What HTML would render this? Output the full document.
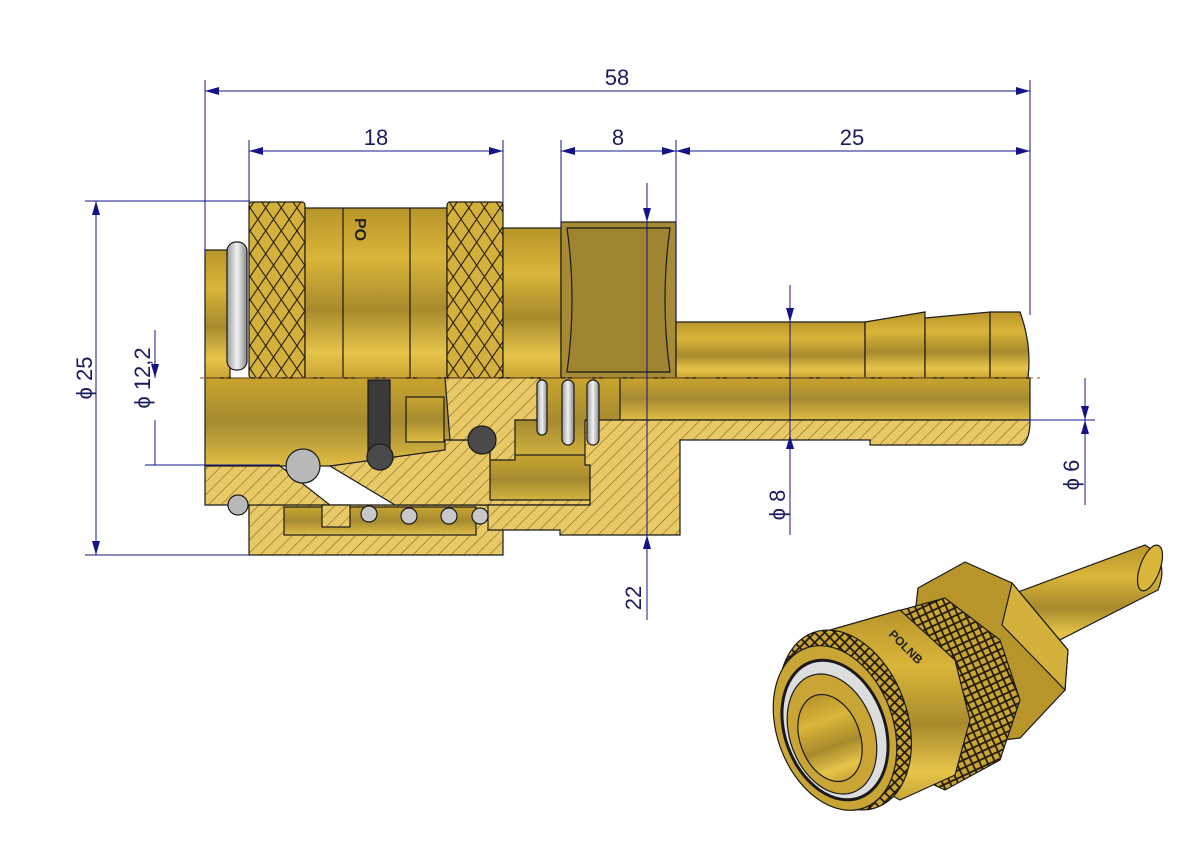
<!DOCTYPE html>
<html><head><meta charset="utf-8"><style>
html,body{margin:0;padding:0;background:#fff;width:1191px;height:842px;overflow:hidden}
svg{display:block}
text{font-family:"Liberation Sans",sans-serif;fill:#1a1a5e}
</style></head><body>
<svg width="1191" height="842" viewBox="0 0 1191 842" xmlns="http://www.w3.org/2000/svg">
<defs>
<linearGradient id="gv" x1="0" y1="0" x2="0" y2="1">
<stop offset="0" stop-color="#b8952a"/><stop offset="0.3" stop-color="#d9b53a"/><stop offset="0.6" stop-color="#a88a2c"/><stop offset="0.85" stop-color="#e6c44a"/><stop offset="1" stop-color="#c9a635"/>
</linearGradient>
<linearGradient id="gl" x1="0" y1="0" x2="0" y2="1">
<stop offset="0" stop-color="#c8a42e"/><stop offset="0.5" stop-color="#a68a30"/><stop offset="1" stop-color="#e0bd45"/>
</linearGradient>
<linearGradient id="gs" x1="0" y1="0" x2="1" y2="0">
<stop offset="0" stop-color="#999"/><stop offset="0.5" stop-color="#f2f2f2"/><stop offset="1" stop-color="#888"/>
</linearGradient>
<pattern id="hatch" width="9" height="9" patternUnits="userSpaceOnUse" patternTransform="rotate(45)">
<rect width="9" height="9" fill="#e8c965"/><line x1="0" y1="0" x2="0" y2="9" stroke="#6b5a22" stroke-width="1"/>
</pattern>
<pattern id="knurl" width="13" height="13" patternUnits="userSpaceOnUse" patternTransform="scale(0.85,1.25) rotate(45)">
<rect width="13" height="13" fill="#d4b13c"/>
<path d="M0,0 L13,0 M0,0 L0,13" stroke="#221a08" stroke-width="2.2"/>
</pattern>
<pattern id="knurl2" width="10" height="10" patternUnits="userSpaceOnUse" patternTransform="rotate(20)">
<rect width="10" height="10" fill="#c9a535"/>
<path d="M0,0 L10,10 M10,0 L0,10" stroke="#231a06" stroke-width="1.8"/>
</pattern>
<marker id="ar" markerWidth="14" markerHeight="8" refX="14" refY="4" orient="auto" markerUnits="userSpaceOnUse">
<path d="M0,0 L14,4 L0,8 z" fill="#14148a"/></marker>
</defs>

<!-- upper half -->
<g stroke="#1a1a1a" stroke-width="1.2">
<rect x="205" y="250" width="25" height="128" fill="url(#gv)"/>
<rect x="227" y="242" width="20" height="128" rx="9" fill="url(#gs)"/>
<rect x="249" y="202" width="56" height="176" rx="3" fill="url(#knurl)"/>
<rect x="305" y="208" width="142" height="170" fill="url(#gv)"/>
<line x1="343" y1="208" x2="343" y2="378"/>
<line x1="410" y1="208" x2="410" y2="378"/>
<rect x="447" y="202" width="56" height="176" rx="3" fill="url(#knurl)"/>
<rect x="503" y="228" width="58" height="150" fill="url(#gv)"/>
<rect x="561" y="222" width="115" height="156" fill="#a78a35"/>
<path d="M567,228 L670,228 Q660,300 670,372 L567,372 Q577,300 567,228z" fill="#9f8431"/>
<path d="M676,322 L865,322 L865,378 L676,378z" fill="url(#gv)"/>
<path d="M865,322 L925,312 L925,378 L865,378z" fill="url(#gv)"/>
<path d="M925,318 L990,312 L990,378 L925,378z" fill="url(#gv)"/>
<path d="M990,312 L1020,312 Q1032,345 1028,378 L990,378z" fill="url(#gv)"/>
</g>
<text x="353" y="230" font-size="16" font-weight="bold" transform="rotate(90 360 225)" style="fill:#222">PO</text>

<!-- lower half section -->
<g stroke="#1a1a1a" stroke-width="1.2">
<rect x="205" y="378" width="420" height="88" fill="url(#gl)"/>
<rect x="620" y="378" width="410" height="42" fill="url(#gl)"/>
<rect x="485" y="455" width="105" height="50" fill="url(#gl)"/>
<path d="M205,466 L280,466 L330,505 L330,525 L249,525 L249,505 L205,505z" fill="url(#hatch)"/>
<path d="M249,505 L503,505 L503,555 L249,555z" fill="url(#hatch)"/>
<rect x="284" y="507" width="192" height="28" fill="url(#gl)"/>
<rect x="322" y="505" width="28" height="22" fill="url(#hatch)"/>
<path d="M330,466 L445,450 L445,440 L490,440 L490,500 L590,500 L590,505 L395,505z" fill="url(#hatch)"/>
<path d="M445,378 L540,378 L540,420 L515,420 L515,460 L490,460 L490,440 L450,440z" fill="url(#hatch)"/>
<rect x="406" y="397" width="38" height="45" fill="url(#gl)"/>
<path d="M585,420 L1030,420 Q1030,440 1022,445 L870,445 L870,440 L680,440 L680,535 L560,535 L560,530 L488,530 L488,505 L590,505 L590,465 L585,465z" fill="url(#hatch)"/>
<rect x="368" y="380" width="22" height="82" fill="#3a3a3a"/>
<circle cx="380" cy="457" r="13" fill="#4a4a4a"/>
<circle cx="482" cy="440" r="14" fill="#4a4a4a"/>
<circle cx="303" cy="466" r="17" fill="#b8b8b8"/>
<circle cx="238" cy="505" r="10" fill="#b8b8b8"/>
<circle cx="369" cy="514" r="8" fill="#c8c8c8"/>
<circle cx="409" cy="516" r="8" fill="#c8c8c8"/>
<circle cx="449" cy="516" r="8" fill="#c8c8c8"/>
<circle cx="480" cy="516" r="8" fill="#c8c8c8"/>
<rect x="537" y="380" width="10" height="55" rx="5" fill="url(#gs)"/>
<rect x="562" y="380" width="12" height="65" rx="6" fill="url(#gs)"/>
<rect x="587" y="380" width="12" height="65" rx="6" fill="url(#gs)"/>
</g>

<line x1="200" y1="378" x2="1040" y2="378" stroke="#8a5a20" stroke-width="1" stroke-dasharray="20,4,3,4"/>

<!-- dimensions -->
<g stroke="#14148a" stroke-width="1" fill="none">
<line x1="205" y1="80" x2="205" y2="255"/>
<line x1="1030" y1="80" x2="1030" y2="315"/>
<line x1="205" y1="91" x2="1030" y2="91" marker-end="url(#ar)"/>
<line x1="1030" y1="91" x2="205" y2="91" marker-end="url(#ar)"/>
<line x1="249" y1="140" x2="249" y2="205"/>
<line x1="503" y1="140" x2="503" y2="205"/>
<line x1="561" y1="140" x2="561" y2="225"/>
<line x1="676" y1="140" x2="676" y2="320"/>
<line x1="249" y1="151" x2="503" y2="151" marker-end="url(#ar)"/>
<line x1="503" y1="151" x2="249" y2="151" marker-end="url(#ar)"/>
<line x1="561" y1="151" x2="676" y2="151" marker-end="url(#ar)"/>
<line x1="676" y1="151" x2="561" y2="151" marker-end="url(#ar)"/>
<line x1="676" y1="151" x2="1030" y2="151" marker-end="url(#ar)"/>
<line x1="1030" y1="151" x2="676" y2="151" marker-end="url(#ar)"/>
<line x1="85" y1="201" x2="250" y2="201"/>
<line x1="85" y1="555" x2="250" y2="555"/>
<line x1="96" y1="201" x2="96" y2="555" marker-end="url(#ar)"/>
<line x1="96" y1="555" x2="96" y2="201" marker-end="url(#ar)"/>
<line x1="145" y1="465" x2="280" y2="465"/>
<line x1="155" y1="330" x2="155" y2="378" marker-end="url(#ar)"/>
<line x1="155" y1="465" x2="155" y2="420"/>
<line x1="647" y1="183" x2="647" y2="222" marker-end="url(#ar)"/>
<line x1="647" y1="222" x2="647" y2="535"/>
<line x1="647" y1="620" x2="647" y2="535" marker-end="url(#ar)"/>
<line x1="790" y1="285" x2="790" y2="322" marker-end="url(#ar)"/>
<line x1="790" y1="322" x2="790" y2="435"/>
<line x1="790" y1="535" x2="790" y2="435" marker-end="url(#ar)"/>
<line x1="1020" y1="420" x2="1095" y2="420"/>
<line x1="1085" y1="378" x2="1085" y2="420" marker-end="url(#ar)"/>
<line x1="1085" y1="505" x2="1085" y2="420" marker-end="url(#ar)"/>
</g>
<g font-size="22">
<text x="617" y="85" text-anchor="middle">58</text>
<text x="376" y="145" text-anchor="middle">18</text>
<text x="618" y="145" text-anchor="middle">8</text>
<text x="852" y="145" text-anchor="middle">25</text>
<text transform="translate(92,378) rotate(-90)" text-anchor="middle">ϕ 25</text>
<text transform="translate(150,378) rotate(-90)" text-anchor="middle">ϕ 12,2</text>
<text transform="translate(641,598) rotate(-90)" text-anchor="middle">22</text>
<text transform="translate(785,505) rotate(-90)" text-anchor="middle">ϕ 8</text>
<text transform="translate(1079,475) rotate(-90)" text-anchor="middle">ϕ 6</text>
</g>

<!-- 3D view -->
<g stroke="#1a1a1a" stroke-width="1.2">
<path d="M1010,595 L1145,545 Q1170,560 1158,590 L1040,650z" fill="url(#gv)"/>
<ellipse cx="1150" cy="568" rx="10" ry="24" transform="rotate(20 1150 568)" fill="#d9b53a"/>
<path d="M918,588 L965,562 L1012,583 L1068,650 L1065,690 L1020,738 L960,745 L905,700z" fill="#b8952a"/>
<path d="M1012,583 L1068,650 L1065,690 L1002,625z" fill="#d4b13c"/>
<path d="M872,618 L945,598 L1000,640 L1020,700 L1000,760 L945,790 L880,760z" fill="url(#knurl2)"/>
<path d="M830,630 L900,610 L955,660 L970,720 L955,775 L900,800 L845,770z" fill="url(#gv)"/>
<ellipse cx="845" cy="720" rx="62" ry="93" transform="rotate(-20 845 720)" fill="url(#knurl2)"/>
<ellipse cx="835" cy="728" rx="58" ry="85" transform="rotate(-20 835 728)" fill="#c9a535"/>
<ellipse cx="835" cy="730" rx="50" ry="72" transform="rotate(-20 835 730)" fill="#ddd" stroke-width="3"/>
<ellipse cx="832" cy="734" rx="42" ry="62" transform="rotate(-20 832 734)" fill="#c9a535"/>
<ellipse cx="830" cy="738" rx="30" ry="45" transform="rotate(-20 830 738)" fill="url(#gv)"/>
</g>
<text x="888" y="635" font-size="12" font-weight="bold" transform="rotate(45 888 635)" style="fill:#222">POLNB</text>
</svg>
</body></html>
